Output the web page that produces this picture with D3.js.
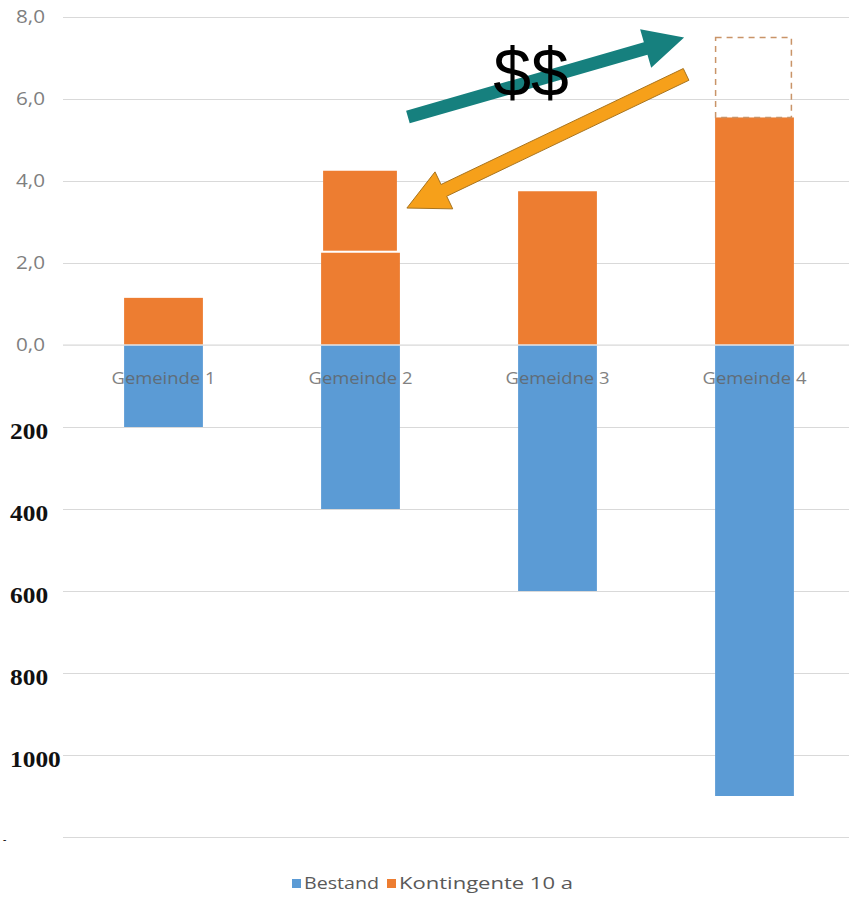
<!DOCTYPE html>
<html>
<head>
<meta charset="utf-8">
<script src="https://cdn.jsdelivr.net/npm/d3@7"></script>
<style>
  body { margin: 0; background: #fff; }
  svg { display: block; }
</style>
</head>
<body>
<div id="chart"></div>
<script>
// data
var categories = ["Gemeinde 1", "Gemeinde 2", "Gemeinde 3", "Gemeinde 4"];
var categoryLabels = ["Gemeinde 1", "Gemeinde 2", "Gemeidne 3", "Gemeinde 4"];
var bestand = [200, 400, 600, 1100];          // drawn downward, lower scale
var kontingente = [1.15, 2.25, 3.75, 5.55];   // drawn upward, upper scale
var transfer = 1.95;                          // moved from Gemeinde 4 to Gemeinde 2
var topTicks = [0, 2, 4, 6, 8];
var bottomTicks = [200, 400, 600, 800, 1000, 1200];
var bottomTickLabels = ["200", "400", "600", "800", "1000", "-"];
var legendNames = ["Bestand", "Kontingente 10 a"];

var width = 849, height = 897;
var colors = { blue: "#5b9bd5", orange: "#ed7d31", grid: "#d9d9d9" };

var svg = d3.select("#chart").append("svg")
  .attr("width", width)
  .attr("height", height);

var x = d3.scaleBand()
  .domain(categories)
  .range([65, 853])
  .paddingInner(0.6)
  .paddingOuter(0.3);

var yTop = d3.scaleLinear().domain([0, 8]).range([345, 17]);
var yBot = d3.scaleLinear().domain([0, 1200]).range([345, 837]);

var gridLeft = 63;

// upper axis + grid
var gTop = svg.append("g")
  .attr("transform", "translate(" + gridLeft + ",0)")
  .call(d3.axisLeft(yTop)
    .tickValues(topTicks)
    .tickSize(-(width - gridLeft))
    .tickPadding(18)
    .tickFormat(function(d) { return d3.format(".1f")(d).replace(".", ","); }));
gTop.select(".domain").remove();
gTop.selectAll(".tick line").attr("stroke", colors.grid);
gTop.selectAll(".tick text")
  .attr("fill", "#7f7f7f")
  .attr("textLength", 29)
  .attr("lengthAdjust", "spacingAndGlyphs")
  .style("font-family", "'Open Sans', sans-serif")
  .style("font-size", "18px");

// lower axis + grid
var gBot = svg.append("g")
  .attr("transform", "translate(" + gridLeft + ",0)")
  .call(d3.axisLeft(yBot)
    .tickValues(bottomTicks)
    .tickSize(-(width - gridLeft))
    .tickFormat(function(d, i) { return bottomTickLabels[i]; }));
gBot.select(".domain").remove();
gBot.selectAll(".tick line").attr("stroke", colors.grid);
gBot.selectAll(".tick text")
  .attr("x", function(d, i) { return i == bottomTickLabels.length - 1 ? 3 - gridLeft : 10 - gridLeft; })
  .attr("dy", "0.5em")
  .style("text-anchor", "start")
  .attr("fill", "#111")
  .style("font-family", "'Liberation Serif', serif")
  .style("font-weight", "bold")
  .style("font-size", function(d, i) { return i == bottomTickLabels.length - 1 ? "10px" : "23px"; });
gBot.selectAll(".tick text")
  .filter(function(d, i) { return i < bottomTickLabels.length - 1; })
  .attr("textLength", function(d, i) { return bottomTickLabels[i].length * 12.7; })
  .attr("lengthAdjust", "spacingAndGlyphs");

// blue bars (Bestand) going down
svg.selectAll("rect.bestand")
  .data(bestand)
  .enter().append("rect")
  .attr("class", "bestand")
  .attr("x", function(d, i) { return x(categories[i]); })
  .attr("y", yBot(0))
  .attr("width", x.bandwidth())
  .attr("height", function(d) { return yBot(d) - yBot(0); })
  .attr("fill", colors.blue);

// orange bars (Kontingente) going up
svg.selectAll("rect.kont")
  .data(kontingente)
  .enter().append("rect")
  .attr("class", "kont")
  .attr("x", function(d, i) { return x(categories[i]); })
  .attr("y", function(d) { return yTop(d); })
  .attr("width", x.bandwidth())
  .attr("height", function(d) { return yTop(0) - yTop(d); })
  .attr("fill", colors.orange);

// transferred block on top of Gemeinde 2
var g2 = kontingente[1] + 0.05;
svg.append("rect")
  .attr("x", x("Gemeinde 2") + 2)
  .attr("y", yTop(g2 + transfer))
  .attr("width", x.bandwidth() - 5)
  .attr("height", yTop(g2) - yTop(g2 + transfer))
  .attr("fill", colors.orange);

// dashed empty block on Gemeinde 4
svg.append("rect")
  .attr("x", x("Gemeinde 4") + 0.5)
  .attr("y", yTop(kontingente[3] + transfer))
  .attr("width", x.bandwidth() - 3)
  .attr("height", yTop(kontingente[3]) - yTop(kontingente[3] + transfer))
  .attr("fill", "none")
  .attr("stroke", "#c99468")
  .attr("stroke-width", 1.5)
  .attr("stroke-dasharray", "6,5");

// zero line over bars
svg.append("line")
  .attr("x1", gridLeft).attr("x2", width)
  .attr("y1", yTop(0)).attr("y2", yTop(0))
  .attr("stroke", "#e4e4e4")
  .attr("stroke-width", 1.5);

// category labels
svg.selectAll("text.cat")
  .data(categoryLabels)
  .enter().append("text")
  .attr("class", "cat")
  .attr("x", function(d, i) { return x(categories[i]) + x.bandwidth() / 2; })
  .attr("y", 384)
  .attr("text-anchor", "middle")
  .attr("fill", "#626262")
  .attr("opacity", 0.8)
  .attr("textLength", 104)
  .attr("lengthAdjust", "spacingAndGlyphs")
  .style("font-family", "'Open Sans', sans-serif")
  .style("font-size", "17px")
  .text(function(d) { return d; });

// arrows (anchored to bars, values on upper scale)
function arrowPoints(x1, y1, x2, y2, shaft, headW, headL) {
  var dx = x2 - x1, dy = y2 - y1, len = Math.sqrt(dx * dx + dy * dy);
  var ux = dx / len, uy = dy / len, px = -uy, py = ux;
  var bx = x2 - ux * headL, by = y2 - uy * headL;
  var pts = [
    [x1 + px * shaft / 2, y1 + py * shaft / 2],
    [bx + px * shaft / 2, by + py * shaft / 2],
    [bx + px * headW / 2, by + py * headW / 2],
    [x2, y2],
    [bx - px * headW / 2, by - py * headW / 2],
    [bx - px * shaft / 2, by - py * shaft / 2],
    [x1 - px * shaft / 2, y1 - py * shaft / 2]
  ];
  return pts.map(function(p) { return p.join(","); }).join(" ");
}

var g2Right = x("Gemeinde 2") + x.bandwidth();
var g4Left = x("Gemeinde 4");

svg.append("polygon")
  .attr("points", arrowPoints(g2Right + 8, yTop(5.56), g4Left - 31, yTop(7.5), 13, 40, 40))
  .attr("fill", "#16807e");

svg.append("text")
  .attr("x", 531)
  .attr("y", 96)
  .attr("text-anchor", "middle")
  .attr("fill", "#000")
  .style("font-family", "'Liberation Sans', Arial, sans-serif")
  .style("font-size", "68px")
  .text("$$");

svg.append("polygon")
  .attr("points", arrowPoints(g4Left - 29, yTop(6.6), g2Right + 7, yTop(3.34), 13, 41, 41))
  .attr("fill", "#f6a01a")
  .attr("stroke", "#a8741f")
  .attr("stroke-width", 1);

// legend
var legend = svg.append("g").attr("transform", "translate(292,879)");
var legendX = [0, 95];
var legendW = [75, 174];
var legendColors = [colors.blue, colors.orange];
legendNames.forEach(function(name, i) {
  legend.append("rect")
    .attr("x", legendX[i]).attr("y", 0)
    .attr("width", 9).attr("height", 9)
    .attr("fill", legendColors[i]);
  legend.append("text")
    .attr("x", legendX[i] + 12).attr("y", 10)
    .attr("fill", "#595959")
    .attr("textLength", legendW[i])
    .attr("lengthAdjust", "spacingAndGlyphs")
    .style("font-family", "'Open Sans', sans-serif")
    .style("font-size", "16px")
    .text(name);
});
</script>
</body>
</html>
